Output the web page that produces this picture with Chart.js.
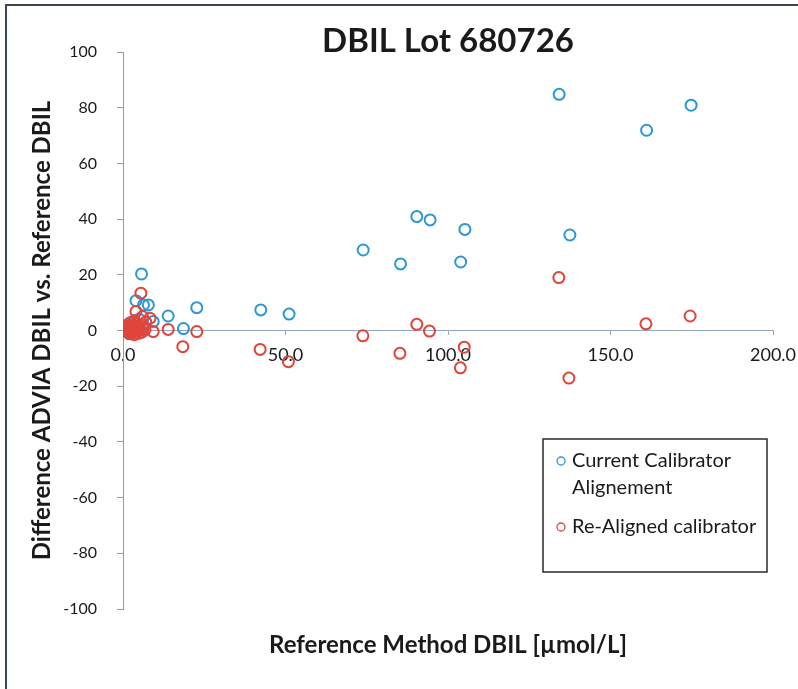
<!DOCTYPE html>
<html>
<head>
<meta charset="utf-8">
<script src="https://cdn.jsdelivr.net/npm/chart.js@4.4.0/dist/chart.umd.min.js"></script>
<style>
    html, body { margin: 0; padding: 0; background: #fff; overflow: hidden; }
    #wrap { position: relative; width: 798px; height: 689px; overflow: hidden; }
    #frame { position: absolute; left: 5px; top: 4px; width: 900px; height: 900px; border: 2px solid #3b4654; }
    canvas { position: absolute; left: 0; top: 0; }
</style>
</head>
<body>
<div id="wrap">
    <div id="frame"></div>
    <canvas id="chart" width="798" height="689"></canvas>
</div>
<script>
// Тексты графика
const chartTitle = 'DBIL Lot 680726';
const xTitle = 'Reference Method DBIL [µmol/L]';
const yTitle = 'Difference ADVIA DBIL vs. Reference DBIL';
const currentLabel = ['Current Calibrator', 'Alignement'];
const realignedLabel = ['Re-Aligned calibrator'];

// Деления осей
const xTicks = [0, 50, 100, 150, 200];
const yTicks = [-100, -80, -60, -40, -20, 0, 20, 40, 60, 80, 100];

// Current calibrator: reference value (x) / difference (y)
const currentX = [1.0, 1.5, 2.0, 2.5, 3.0, 3.5, 4.0, 4.5, 5.0, 6.0, 5.7, 4.0, 6.3, 7.8, 9.3, 13.9, 18.6, 22.7, 42.4, 51.1,
                  73.9, 85.4, 90.4, 94.5, 103.9, 105.2, 134.2, 137.5, 161.1, 174.8];
const currentY = [0.5, 1.5, -0.5, 2.0, 1.0, 3.5, 2.5, 1.0, 4.0, 2.0, 20.3, 10.7, 9.2, 9.2, 3.2, 5.2, 0.7, 8.2, 7.4, 5.9,
                  28.9, 23.9, 40.9, 39.7, 24.6, 36.3, 84.8, 34.3, 71.9, 80.9];

// Re-aligned calibrator
const realignedX = [0.8, 1.0, 1.2, 1.5, 1.8, 2.0, 2.2, 2.3, 2.5, 2.8, 3.0, 3.2, 3.4, 3.5, 3.8, 4.0, 4.3, 4.5, 4.8, 5.0,
                    5.3, 5.8, 6.0, 6.2, 6.8, 7.0, 4.0, 5.5, 8.3, 9.3, 13.9, 18.4, 22.7, 42.2, 50.9,
                    73.8, 85.2, 90.4, 94.3, 103.8, 105.0, 134.1, 137.2, 160.9, 174.5];
const realignedY = [0.5, 1.8, -0.5, 1.0, 0.2, -1.2, 2.8, 1.5, 0.0, -0.8, 2.0, 0.6, 3.5, -1.5, 1.2, -0.3, 2.5, 0.8, -1.0, 1.8,
                    0.2, -0.6, 5.0, 1.0, 0.3, 3.0, 6.8, 13.4, 4.4, -0.4, 0.4, -5.8, -0.4, -6.8, -11.2,
                    -1.9, -8.2, 2.2, -0.2, -13.4, -6.0, 19.0, -17.1, 2.4, 5.2];

const blue = '#2b98d6';
const red = '#e0453b';
const fontFamily = 'Lato, "Open Sans", sans-serif';

function toPoints(xs, ys) {
    return xs.map((x, i) => ({ x: x, y: ys[i] }));
}

// Легенда в рамке (как в Excel)
const boxLegend = {
    id: 'boxLegend',
    afterDraw(chart) {
        const ctx = chart.ctx;
        const area = chart.chartArea;
        const left = area.right - 230;
        const top = area.top + 387;
        const width = 224;
        const height = 133;

        ctx.save();
        ctx.fillStyle = '#ffffff';
        ctx.fillRect(left, top, width, height);
        ctx.strokeStyle = '#2a2a2a';
        ctx.lineWidth = 1.5;
        ctx.strokeRect(left, top, width, height);

        ctx.font = '20px ' + fontFamily;
        ctx.textBaseline = 'middle';
        ctx.fillStyle = '#1a1a1a';

        let y = top + 22;
        chart.data.datasets.forEach(ds => {
            ctx.beginPath();
            ctx.arc(left + 18, y, 4, 0, Math.PI * 2);
            ctx.strokeStyle = ds.borderColor;
            ctx.lineWidth = 1.3;
            ctx.stroke();
            ds.label.forEach(line => {
                ctx.fillText(line, left + 29, y);
                y += 27;
            });
            y += 12;
        });
        ctx.restore();
    }
};

const ctx = document.getElementById('chart').getContext('2d');
const chart = new Chart(ctx, {
    type: 'scatter',
    data: {
        datasets: [{
            label: currentLabel,
            data: toPoints(currentX, currentY),
            borderColor: blue,
            backgroundColor: 'rgba(0,0,0,0)',
            pointRadius: 5.5,
            pointBorderWidth: 2,
            order: 1
        }, {
            label: realignedLabel,
            data: toPoints(realignedX, realignedY),
            borderColor: red,
            backgroundColor: 'rgba(0,0,0,0)',
            pointRadius: 5.5,
            pointBorderWidth: 2,
            order: 0
        }]
    },
    options: {
        responsive: false,
        animation: false,
        layout: {
            padding: { top: 0, left: 10, right: 25, bottom: 11 }
        },
        plugins: {
            legend: { display: false },
            tooltip: { enabled: false },
            title: {
                display: true,
                fullSize: false,
                text: chartTitle,
                color: '#1a1a1a',
                font: { family: fontFamily, size: 33, weight: 'bold' },
                padding: { top: 22, bottom: -9.6 }
            },
            subtitle: {
                display: true,
                fullSize: false,
                position: 'bottom',
                text: xTitle,
                color: '#1a1a1a',
                font: { family: fontFamily, size: 24, weight: 'bold' },
                padding: { top: 21.6, bottom: 18.6 }
            }
        },
        scales: {
            x: {
                type: 'linear',
                position: { y: 0 },
                min: 0,
                max: 200,
                afterBuildTicks: axis => { axis.ticks = xTicks.map(v => ({ value: v })); },
                afterFit: axis => { axis.paddingLeft = 0; axis.paddingRight = 0; },
                grid: { display: true, drawOnChartArea: false, tickLength: 4, color: '#8fa7c0' },
                border: { color: '#8fa7c0', width: 1 },
                ticks: {
                    color: '#1a1a1a',
                    padding: 10,
                    font: { family: fontFamily, size: 18 },
                    callback: value => value.toFixed(1)
                }
            },
            y: {
                type: 'linear',
                min: -100,
                max: 100,
                afterBuildTicks: axis => { axis.ticks = yTicks.map(v => ({ value: v })); },
                afterFit: axis => { axis.width = 113; },
                grid: { display: true, drawOnChartArea: false, tickLength: 6, color: '#9a9a9a' },
                border: { color: '#9a9a9a', width: 1 },
                ticks: {
                    color: '#1a1a1a',
                    padding: 20,
                    font: { family: fontFamily, size: 16 }
                },
                title: {
                    display: true,
                    text: yTitle,
                    color: '#1a1a1a',
                    font: { family: fontFamily, size: 24, weight: 'bold' },
                    padding: { top: 17.6, bottom: 0 }
                }
            }
        }
    },
    plugins: [boxLegend]
});
</script>
</body>
</html>
